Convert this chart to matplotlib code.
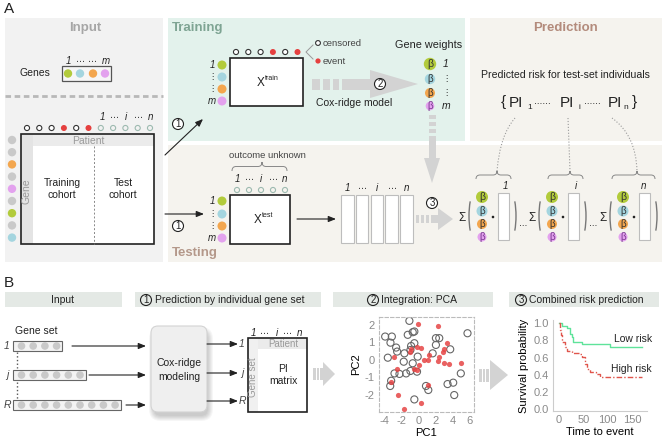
import matplotlib
matplotlib.use('Agg')
import matplotlib.pyplot as plt
from matplotlib.patches import Circle, Rectangle, Polygon, FancyBboxPatch, Arc, PathPatch
from matplotlib.path import Path

plt.rcParams['font.family'] = ['Liberation Sans', 'DejaVu Sans']
plt.rcParams['axes.unicode_minus'] = False

# ---- data ----
# c = censored, e = event, u = outcome unknown
patient_status = ['c', 'c', 'c', 'e', 'c', 'e', 'u', 'u', 'u', 'u', 'u']
train_status = ['c', 'c', 'c', 'e', 'c', 'e']
test_status = ['u', 'u', 'u', 'u', 'u']
row_genes = [None, None, 2, None, 3, None, 0, None, 1]   # index into gene colours
gene_row_labels = ['1', '⋮', '⋮', 'm']
gene_set_labels = ['1', 'j', 'R']
gene_set_sizes = [4, 6, 9]
pi_labels = ['1', 'i', 'n']
b_headers = ['Input', 'Prediction by individual gene set', 'Integration: PCA', 'Combined risk prediction']

pca_cens_x = [-1.05, -3.88, -3.10, -3.26, -1.24, -0.66, -0.47, -2.60, -2.48, -1.63, -0.85, -0.47,
              -0.93, -3.57, -1.71, -0.66, -0.08, 2.05, 2.44, 2.05, 1.67, 3.72, 5.74, -2.79, -2.21,
              -1.43, -0.93, -0.16, -3.18, -3.29, 0.89, 1.16, 3.41, 4.07, 4.19, -0.47, 4.96]
pca_cens_y = [2.24, 1.34, 1.34, 0.99, 1.44, 1.59, 1.63, 0.71, 0.48, 0.38, 0.80, 0.96,
              0.57, 0.13, -0.10, -0.19, 0.19, 1.25, 1.25, 0.86, 0.38, 0.61, 1.53, -0.77, -0.80,
              -0.77, -0.63, -0.67, -1.19, -1.49, -1.49, -1.72, -1.38, -1.30, -2.01, -2.26, -0.77]
pca_event_x = [-0.08, 2.25, -0.97, -0.16, 0.31, 1.28, 1.16, 0.70, 2.25, 2.44, 2.83, 3.02, 3.33,
               3.02, 3.60, 4.96, 0.12, -0.16, -0.54, -2.48, -2.79, -3.18, -2.33, 0.31, -1.63, 1.08, -0.85]
pca_event_y = [2.05, 1.95, 0.48, 0.73, 0.71, 0.29, 0.00, 0.00, -0.04, 0.19, 0.48, 0.61, 0.96,
               -0.15, -0.23, -0.15, -0.29, -0.57, -0.54, -0.54, 0.19, -1.25, -2.01, -2.49, -2.78, -1.44, 0.60]

km_low_t = [0, 6, 17, 23, 26, 29, 48, 105, 170]
km_low_s = [1.0, 0.97, 0.94, 0.88, 0.84, 0.78, 0.76, 0.72, 0.72]
km_high_t = [0, 2, 4, 7, 12, 17, 26, 43, 47, 54, 57, 64, 75, 85, 96, 170]
km_high_s = [1.0, 0.92, 0.86, 0.78, 0.72, 0.68, 0.65, 0.64, 0.61, 0.53, 0.47, 0.43, 0.41, 0.38, 0.37, 0.37]

GENE_COLS = ['#b2cb3b', '#a4d5df', '#f3a64e', '#e3a2ee']
RED = '#e5403f'
ARROW_GRAY = '#d3d3d3'
DOTS = '⋯'

fig = plt.figure(figsize=(6.62, 4.43), dpi=100)
ax = fig.add_axes([0, 0, 1, 1])
ax.set_xlim(0, 662)
ax.set_ylim(443, 0)
ax.axis('off')


def rect(x0, y0, x1, y1, fc='white', ec='none', lw=0.8, z=2):
    ax.add_patch(Rectangle((x0, y0), x1 - x0, y1 - y0, fc=fc, ec=ec, lw=lw, zorder=z))


def circ(x, y, r, fc, ec='none', lw=0.8, z=4):
    ax.add_patch(Circle((x, y), r, fc=fc, ec=ec, lw=lw, zorder=z))


def t(x, y, s, size=7.5, color='#222', ha='center', va='center', **kw):
    ax.text(x, y, s, fontsize=size, color=color, ha=ha, va=va, zorder=6, **kw)


def dots(x, y, n=1, size=6.5):
    t(x, y, DOTS * n, size=size, color='#333', family=['DejaVu Sans'])


def status(x, y, st, r=3.0):
    if st == 'e':
        circ(x, y, r, RED)
    elif st == 'c':
        circ(x, y, r * 0.85, 'white', '#333', 0.8)
    else:
        circ(x, y, r * 0.85, 'none', '#9dbab0', 0.8)


def num(x, y, s, fc='white', r=5.5):
    circ(x, y, r, fc, '#222', 0.8, z=5)
    t(x, y + 0.3, s, size=7)


def harrow(dashes, xb0, xh0, xtip, y, bh, hh, col=ARROW_GRAY):
    for a, b in dashes:
        rect(a, y - bh / 2, b, y + bh / 2, fc=col, z=3)
    if xh0 > xb0:
        rect(xb0, y - bh / 2, xh0, y + bh / 2, fc=col, z=3)
    ax.add_patch(Polygon([(xh0, y - hh / 2), (xtip, y), (xh0, y + hh / 2)], fc=col, ec='none', zorder=3))


def brace(x0, x1, xp, y, h, col='#888'):
    m = y + h / 2
    verts = [(x0, y + h), (x0, m), (x0 + 4, m), (xp - 4, m), (xp, m), (xp, y),
             (xp, m), (xp + 4, m), (x1 - 4, m), (x1, m), (x1, y + h)]
    codes = [Path.MOVETO, Path.CURVE3, Path.CURVE3, Path.LINETO, Path.CURVE3, Path.CURVE3,
             Path.CURVE3, Path.CURVE3, Path.LINETO, Path.CURVE3, Path.CURVE3]
    ax.add_patch(PathPatch(Path(verts, codes), fc='none', ec=col, lw=0.7, zorder=4))


def paren(x, yc, h, left=True):
    if left:
        ax.add_patch(Arc((x + 9, yc), 18, h * 1.12, theta1=118, theta2=242, color='#777', lw=1, zorder=4))
    else:
        ax.add_patch(Arc((x - 9, yc), 18, h * 1.12, theta1=-62, theta2=62, color='#777', lw=1, zorder=4))


def dotted(pts, codes):
    ax.add_patch(PathPatch(Path(pts, codes), fc='none', ec='#9a9a9a', lw=0.8, ls=':', zorder=4))


def index_labels(xs, y, labs, size=7):
    for x, s in zip(xs, labs):
        if s == '...':
            dots(x, y)
        else:
            t(x, y, s, size=size, style='italic')


# ================= A =================
t(4, 9, 'A', size=11, ha='left')
rect(5, 18, 163, 262, fc='#f2f2f2', z=0)
rect(168, 18, 465, 141, fc='#e3f2ec', z=0)
rect(470, 18, 662, 141, fc='#f5f3ee', z=0)
rect(168, 145, 662, 262, fc='#f5f3ee', z=0)

# Input
t(85, 28, 'Input', size=9.5, weight='bold', color='#a6a6a6')
t(35, 73, 'Genes', size=7.5)
rect(62, 66, 111, 81, fc='#f6f6f6', ec='#555', lw=0.9)
for k, x in enumerate([68, 80, 93, 105]):
    circ(x, 73.5, 4.2, GENE_COLS[k])
index_labels([68, 80, 92, 106], 61, ['1', '...', '...', 'm'])
ax.plot([5, 163], [96, 96], color='#b8b8b8', lw=2, dashes=(2, 1.3), zorder=1)

index_labels([102, 114, 126, 138, 151], 117, ['1', '...', 'i', '...', 'n'])
for k, st in enumerate(patient_status):
    status(27 + 12.3 * k, 128, st)
rect(21, 134, 154, 244, fc='white', z=2)
rect(33, 134, 154, 146, fc='#ebebeb', z=2)
rect(21, 134, 33, 244, fc='#e4e4e4', z=2)
rect(21, 134, 154, 244, fc='none', ec='#222', lw=1.2, z=3)
t(88, 141, 'Patient', color='#9a9a9a')
t(27, 191, 'Gene', color='#9a9a9a', rotation=90)
ax.plot([94, 94], [146, 244], color='#888', lw=0.7, ls=(0, (2, 2)), zorder=3)
t(62, 189, 'Training\ncohort', linespacing=1.35)
t(123, 189, 'Test\ncohort', linespacing=1.35)
for k, g in enumerate(row_genes):
    circ(12, 140 + 12.2 * k, 4.2, GENE_COLS[g] if g is not None else '#c9c9c9')

arrow_kw = dict(arrowstyle='-|>,head_length=0.45,head_width=0.18', color='#222', lw=0.8,
                shrinkA=0, shrinkB=0)
ax.annotate('', xy=(203, 119), xytext=(165, 155), arrowprops=arrow_kw, zorder=5)
ax.annotate('', xy=(204, 214), xytext=(165, 214), arrowprops=arrow_kw, zorder=5)
num(178, 124, '1')
num(178, 226, '1')

# Training
t(172, 28, 'Training', size=9.5, weight='bold', color='#7ea493', ha='left')
for k, st in enumerate(train_status):
    status(236 + 12.3 * k, 52, st)
rect(230, 58, 303, 106, fc='white', ec='#222', lw=1.2, z=3)
t(261, 83, 'X', size=8.5)
t(265, 78, 'train', size=5, ha='left')
for k, y in enumerate([65, 77, 89, 101]):
    circ(222, y, 4.5, GENE_COLS[k])
    lab = gene_row_labels[k]
    t(212, y, lab, size=7 if lab != '⋮' else 6, style='italic' if lab != '⋮' else 'normal')
ax.plot([313, 306, 313], [45, 52, 59], color='#999', lw=0.7, zorder=3)
circ(318, 43, 2.4, 'white', '#333', 0.8)
t(323, 43, 'censored', size=6.8, ha='left', color='#444')
circ(318, 61, 2.6, RED)
t(323, 61, 'event', size=6.8, ha='left', color='#444')
t(429, 45, 'Gene weights', size=7.8)
for k, (y, r) in enumerate([(64, 6.2), (79, 5.2), (93, 5.0), (106, 4.3)]):
    circ(430, y, r, GENE_COLS[k])
    t(430, y + 0.3, 'β', size=7.5 if k == 0 else 7, color='#333' if k < 3 else '#7a3a90')
    lab = gene_row_labels[k]
    t(446, y, lab, size=7.5 if lab != '⋮' else 6, style='italic' if lab != '⋮' else 'normal')
harrow([(312, 320), (323, 330), (333, 339)], 342, 370, 418, 84, 11, 28)
num(380, 84, '2')
t(354, 103, 'Cox-ridge model', size=7.5)

# vertical weights arrow
for a, b in [(115, 119), (122, 126), (129, 133)]:
    rect(428.5, a, 435.5, b, fc=ARROW_GRAY, z=3)
rect(428.5, 136, 435.5, 158, fc=ARROW_GRAY, z=3)
ax.add_patch(Polygon([(424, 158), (432, 183), (440, 158)], fc=ARROW_GRAY, ec='none', zorder=3))
num(432, 203, '3')

# Prediction
t(566, 28, 'Prediction', size=9.5, weight='bold', color='#b38b7c')
t(565, 75, 'Predicted risk for test-set individuals', size=7.6)
t(503, 102, '{', size=11)
for x, sub, dx in [(516, '1', 530), (567, 'i', 579), (615, 'n', 626)]:
    t(x, 103, 'PI', size=11)
    t(dx, 107, sub, size=6)
dots(542, 103, 2, size=6)
dots(592, 103, 2, size=6)
t(634, 102, '}', size=11)
dotted([(515, 118), (500, 135), (497, 171)], [Path.MOVETO, Path.CURVE3, Path.CURVE3])
dotted([(568, 118), (570, 171)], [Path.MOVETO, Path.LINETO])
dotted([(612, 118), (636, 135), (637, 171)], [Path.MOVETO, Path.CURVE3, Path.CURVE3])

# Testing
t(172, 253, 'Testing', size=9.5, weight='bold', color='#b4988a', ha='left')
t(267, 156, 'outcome unknown', size=6.8, color='#444')
brace(232, 287, 262, 162, 9)
index_labels([237, 249, 261, 273, 285], 179, ['1', '...', 'i', '...', 'n'])
for k, st in enumerate(test_status):
    status(237 + 12 * k, 190, st)
rect(230, 195, 290, 244, fc='white', ec='#222', lw=1.2, z=3)
t(258, 220, 'X', size=8.5)
t(262, 215, 'test', size=5, ha='left')
for k, y in enumerate([201, 214, 226, 238]):
    circ(222, y, 4.5, GENE_COLS[k])
    lab = gene_row_labels[k]
    t(212, y, lab, size=7 if lab != '⋮' else 6, style='italic' if lab != '⋮' else 'normal')
ax.annotate('', xy=(336, 219), xytext=(297, 219), arrowprops=arrow_kw, zorder=5)
for k in range(len(test_status)):
    rect(341 + 14.8 * k, 195, 353.5 + 14.8 * k, 243, fc='white', ec='#bdbdbd', lw=0.8, z=3)
index_labels([347, 362, 377, 392, 407], 188, ['1', '...', 'i', '...', 'n'])
harrow([(416, 419), (421, 424), (426, 429)], 431, 438, 453, 219, 8, 22)

group_x = [462, 532, 603]
brace_x = [(476, 511, 497), (548, 583, 570), (612, 655, 637)]
for g, b in enumerate(group_x):
    t(b, 218, 'Σ', size=8.5)
    paren(b + 7, 216, 52, left=True)
    for k, (y, r) in enumerate([(197, 6), (211, 5.5), (224, 5), (237, 4.5)]):
        circ(b + 20, y, r, GENE_COLS[k])
        t(b + 20, y + 0.3, 'β', size=7.5 if k == 0 else 7, color='#333' if k < 3 else '#7a3a90')
    circ(b + 31, 217, 1.3, '#222')
    rect(b + 36, 193, b + 47, 240, fc='white', ec='#bdbdbd', lw=0.8, z=3)
    paren(b + 54, 216, 52, left=False)
    if g < 2:
        dots(b + 61, 225, size=6)
    x0, x1, xp = brace_x[g]
    brace(x0, x1, xp, 171, 8)
    t([505, 576, 644][g], 186, pi_labels[g], size=7, style='italic')

# ================= B =================
t(4, 283, 'B', size=11, ha='left')
HDR = '#e4e9e5'
for (x0, x1) in [(5, 122), (135, 321), (333, 493), (509, 659)]:
    rect(x0, 292, x1, 307, fc=HDR, z=0)
t(63, 300, b_headers[0])
num(146, 300, '1', fc='none')
t(155, 300, b_headers[1], ha='left')
num(373, 300, '2', fc='none')
t(381, 300, b_headers[2], ha='left')
num(521, 300, '3', fc='none')
t(529, 300, b_headers[3], ha='left')

# gene sets
t(36, 331, 'Gene set')
set_y = [346, 375, 405]
set_arrow_x = [72, 89, 126]
for lab, n, y, xa in zip(gene_set_labels, gene_set_sizes, set_y, set_arrow_x):
    right = 21.5 + 11.7 * (n - 1) + 5.5
    rect(13, y - 5, right, y + 5, fc='#f3f3f3', ec='#666', lw=0.8, z=3)
    for k in range(n):
        circ(21.5 + 11.7 * k, y, 3.8, '#c9c9c9')
    t(7, y, lab, size=7.5, style='italic', color='#444')
    ax.annotate('', xy=(146, y), xytext=(xa, y), arrowprops=arrow_kw, zorder=5)
ax.plot([17, 17], [352, 368], color='#555', lw=1, ls=':', zorder=3)
ax.plot([17, 17], [382, 399], color='#555', lw=1, ls=':', zorder=3)

# Cox-ridge modelling box with soft shadow
for k in range(6):
    ax.add_patch(FancyBboxPatch((152 + 2 - k, 327 + 5 - k), 54 + 2 * k, 84 + 2 * k,
                                boxstyle='round,pad=0,rounding_size=%.1f' % (7 + k),
                                fc='black', ec='none', alpha=0.035, zorder=2))
ax.add_patch(FancyBboxPatch((151, 326), 56, 86, boxstyle='round,pad=0,rounding_size=7',
                            fc='#efefef', ec='#d3d3d3', lw=0.8, zorder=3))
t(179, 370, 'Cox-ridge\nmodeling', linespacing=1.5)
for y, lab in zip([344, 373, 401], gene_set_labels):
    ax.annotate('', xy=(238, y), xytext=(207, y), arrowprops=arrow_kw, zorder=5)
    t(242, y, lab, size=7.5, style='italic', color='#444')

# PI matrix
rect(248, 338, 307, 412, fc='white', z=2)
rect(258, 338, 307, 349, fc='#ebebeb', z=2)
rect(248, 338, 258, 412, fc='#f0f0f0', z=2)
rect(248, 338, 307, 412, fc='none', ec='#222', lw=1.2, z=3)
t(283, 344, 'Patient', size=7, color='#9a9a9a')
t(253, 377, 'Gene set', size=7, color='#9a9a9a', rotation=90)
t(283, 375, 'PI\nmatrix', linespacing=1.3)
index_labels([253, 264, 277, 287, 300], 333, ['1', '...', 'i', '...', 'n'])

harrow([(313, 315.5), (316.5, 319), (320, 322.5)], 323, 323, 335, 374, 12, 24)
harrow([(479, 481.5), (482.5, 485), (486, 488.5)], 490, 490, 508, 375, 13, 30)

# PCA scatter
pax = fig.add_axes([379 / 662, (443 - 412) / 443, 95 / 662, 95 / 443])
pax.scatter(pca_cens_x, pca_cens_y, s=26, facecolors='none', edgecolors='#666', linewidths=0.8)
pax.scatter(pca_event_x, pca_event_y, s=14, color='#e64545', alpha=0.85, linewidths=0)
pax.set_xlim(-4.6, 6.5)
pax.set_ylim(-2.98, 2.46)
pax.set_xticks([-4, -2, 0, 2, 4, 6])
pax.set_yticks([-2, -1, 0, 1, 2])
pax.tick_params(length=0, labelsize=8, labelcolor='#8a8a8a', pad=3)
for sp in pax.spines.values():
    sp.set_linestyle((0, (3, 2)))
    sp.set_color('#bbbbbb')
    sp.set_linewidth(0.8)
pax.set_xlabel('PC1', fontsize=8, labelpad=1)
pax.set_ylabel('PC2', fontsize=8, labelpad=3)

# Kaplan-Meier curves
kax = fig.add_axes([553 / 662, (443 - 411) / 443, 94 / 662, 91 / 443])
kax.step(km_low_t, km_low_s, where='post', color='#5fe39a', lw=1)
kax.step(km_high_t, km_high_s, where='post', color='#e0554c', lw=1, dashes=(4, 1.5, 1, 1.5))
kax.set_xlim(-12.3, 180.7)
kax.set_ylim(-0.02, 1.038)
kax.set_xticks([0, 50, 100, 150])
kax.set_yticks([0, 0.2, 0.4, 0.6, 0.8, 1.0])
kax.set_yticklabels(['%.1f' % v for v in [0, 0.2, 0.4, 0.6, 0.8, 1.0]])
kax.tick_params(length=0, labelsize=8, labelcolor='#8a8a8a', pad=3)
for side in ['top', 'right']:
    kax.spines[side].set_visible(False)
for side in ['left', 'bottom']:
    kax.spines[side].set_color('#cccccc')
kax.set_xlabel('Time to event', fontsize=8, labelpad=1)
kax.set_ylabel('Survival probability', fontsize=8, labelpad=3)
kax.patch.set_alpha(0)
t(652, 339, 'Low risk', size=7.5, ha='right')
t(652, 369, 'High risk', size=7.5, ha='right')

fig.savefig('out.png', dpi=100)
